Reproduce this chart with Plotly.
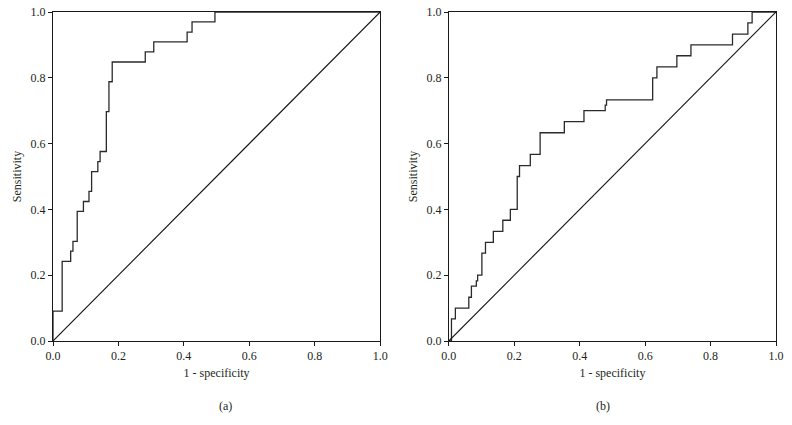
import plotly.graph_objects as go
from plotly.subplots import make_subplots

# Panel (a) ROC curve (step corners)
a_fpr = [0, 0, 0.028, 0.054, 0.061, 0.074, 0.093, 0.110, 0.118, 0.137, 0.144, 0.163,
         0.171, 0.181, 0.282, 0.308, 0.410, 0.425, 0.495, 1.0]
a_tpr = [0, 0.091, 0.242, 0.273, 0.303, 0.394, 0.424, 0.455, 0.515, 0.545, 0.576, 0.697,
         0.788, 0.848, 0.879, 0.909, 0.939, 0.970, 1.0, 1.0]

# Panel (b) ROC curve (step corners)
b_fpr = [0, 0.008, 0.020, 0.061, 0.069, 0.084, 0.088, 0.101, 0.112, 0.136, 0.165, 0.188,
         0.209, 0.216, 0.249, 0.279, 0.353, 0.413, 0.478, 0.482, 0.623, 0.636, 0.697,
         0.740, 0.867, 0.914, 0.927, 1.0]
b_tpr = [0, 0.067, 0.100, 0.133, 0.167, 0.183, 0.200, 0.267, 0.300, 0.333, 0.367, 0.400,
         0.500, 0.533, 0.567, 0.633, 0.667, 0.700, 0.717, 0.733, 0.800, 0.833, 0.867,
         0.900, 0.933, 0.967, 1.0, 1.0]

ref_line = [0, 1]
tick_vals = [0, 0.2, 0.4, 0.6, 0.8, 1.0]
tick_text = ["0.0", "0.2", "0.4", "0.6", "0.8", "1.0"]
panel_labels = ["(a)", "(b)"]
x_title = "1 - specificity"
y_title = "Sensitivity"

FONT = "Liberation Serif, Times New Roman, serif"
TXT = "#231f20"

fig = make_subplots(rows=1, cols=2, horizontal_spacing=0.095)

for col, (fx, ty) in enumerate([(a_fpr, a_tpr), (b_fpr, b_tpr)], start=1):
    fig.add_trace(go.Scatter(x=fx, y=ty, mode="lines", line_shape="hv",
                             line=dict(color="#2a2a2a", width=1.3),
                             showlegend=False, hoverinfo="skip"), row=1, col=col)
    fig.add_trace(go.Scatter(x=ref_line, y=ref_line, mode="lines",
                             line=dict(color="#111111", width=1.1),
                             showlegend=False, hoverinfo="skip"), row=1, col=col)

axis_common = dict(range=[0, 1], tickvals=tick_vals, ticktext=tick_text, automargin=False,
                   ticklabeloverflow="allow",
                   showgrid=False, zeroline=False, showline=True, linecolor="#1a1a1a",
                   linewidth=1, mirror=True, ticks="outside", ticklen=4, tickwidth=1,
                   tickcolor="#1a1a1a", tickfont=dict(family=FONT, size=12, color=TXT))

for col in (1, 2):
    fig.update_xaxes(**axis_common, title=dict(text=x_title, font=dict(family=FONT, size=12, color=TXT),
                                                standoff=6), row=1, col=col)
    fig.update_yaxes(**axis_common, title=dict(text=y_title, font=dict(family=FONT, size=12, color=TXT),
                                                standoff=6), row=1, col=col)

doms = [fig.layout.xaxis.domain, fig.layout.xaxis2.domain]
for lab, d in zip(panel_labels, doms):
    fig.add_annotation(text=lab, x=(d[0] + d[1]) / 2, xref="paper", y=-0.197, yref="paper",
                       showarrow=False, yanchor="middle",
                       font=dict(family=FONT, size=12, color=TXT))

fig.update_layout(width=792, height=425, plot_bgcolor="white", paper_bgcolor="white",
                  margin=dict(l=53, r=16, t=12, b=84))

fig.write_html("out.html", config={"displayModeBar": False},
               post_script="document.body.style.margin='0';")
